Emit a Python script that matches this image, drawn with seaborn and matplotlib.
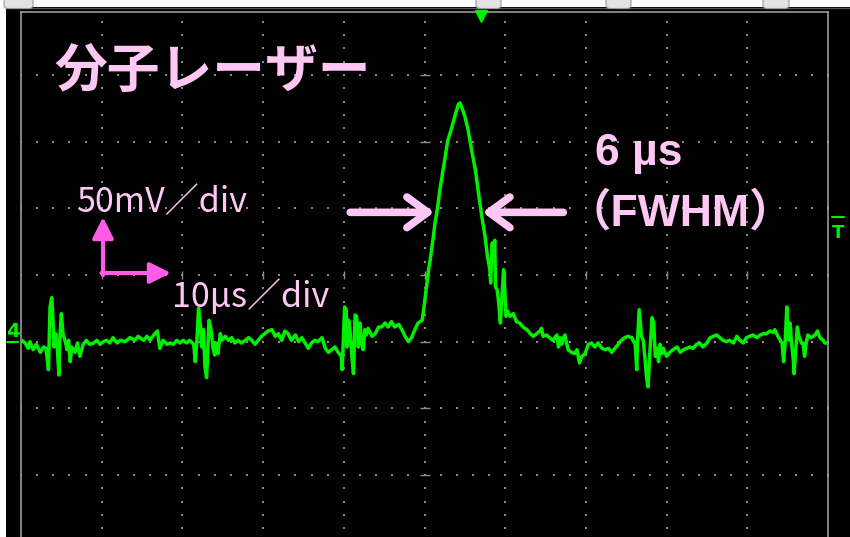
import numpy as np
import pandas as pd
import matplotlib
matplotlib.use("Agg")
import matplotlib.pyplot as plt
from matplotlib.patches import Rectangle, FancyBboxPatch
from matplotlib.lines import Line2D
from matplotlib.transforms import Affine2D, blended_transform_factory
import seaborn as sns

# Channel 4 capture: time in µs from the left screen edge, signal in mV above ground.
t_before = [0.1, 0.5, 0.9, 1.1, 1.5, 1.9, 2.4, 2.8, 3.1, 3.4, 3.6, 3.8, 3.9, 4.1, 4.3, 4.5,
            4.7, 4.8, 5.0, 5.2, 5.5, 5.7, 5.9, 6.1, 6.3, 6.7, 7.0, 7.3, 7.7, 8.1, 8.5, 9.0,
            9.4, 9.8, 10.2, 10.6, 11.0, 11.4, 11.9, 12.3, 12.9, 13.5, 14.1, 14.5, 15.2, 15.6,
            16.0, 16.2, 16.6, 16.9, 17.2, 17.6, 18.1, 18.5, 18.9, 19.3, 19.7, 20.1, 20.5, 20.9,
            21.4, 21.6, 21.8, 22.0, 22.2, 22.4, 22.6, 22.8, 23.0, 23.2, 23.3, 23.5, 23.8, 24.0,
            24.2, 24.4, 24.7, 24.9, 25.3, 25.7, 26.1, 26.5, 26.9, 27.3, 27.8, 28.2, 28.6, 29.0,
            29.4, 29.8, 30.2, 30.6, 31.1, 31.5, 31.9, 32.3, 32.7, 33.1, 33.5, 34.0, 34.4, 34.8,
            35.2, 35.6, 36.0, 36.4, 36.8, 37.3, 37.7, 38.1, 38.5, 38.9, 39.3, 39.7, 39.8, 40.1,
            40.3, 40.4, 40.6, 40.8, 41.0, 41.2, 41.4, 41.6, 41.8, 42.0, 42.2, 42.4, 42.6, 42.8,
            43.0, 43.5, 43.9, 44.3, 44.7, 45.1, 45.5, 45.9, 46.3, 46.8, 47.2, 47.6, 48.0, 48.4,
            48.8]
v_before = [1, -1, -5, 0, -6, -2, -8, -4, -5, -21, 26, 33, 24, -4, 6, -5,
            -25, 1, 21, 6, 0, -6, 1, -15, -4, -8, -1, -11, -2, 1, -2, -1,
            1, -2, 0, 1, -1, 3, -1, 1, 0, 3, 1, 4, 1, 4,
            1, 3, 6, 8, -5, 1, -2, -1, -2, 1, -1, 1, -1, 1,
            -2, -15, 1, 25, 14, -4, 9, -19, -27, 1, 16, 11, -5, -10,
            -1, -9, 6, 1, 4, 1, 3, -1, 1, -1, 1, 3, 1, -2,
            1, 4, 6, 8, 9, 4, 6, 1, 8, 6, 1, 5, 0, 3,
            -1, -5, -1, 1, 0, 3, -5, -8, -6, -4, -8, -11, -21, 26,
            24, -4, 16, 6, -11, -24, 20, 19, -4, 14, -1, -6, 9, 5,
            10, 4, 6, 11, 11, 14, 11, 15, 11, 13, 9, 4, 0, 3,
            9]

t_pulse = [49.2, 49.7, 49.9, 50.1, 50.3, 50.5, 50.7, 50.9, 51.1, 51.3, 51.5, 51.7, 51.9,
           52.1, 52.3, 52.5, 52.7, 52.9, 53.4, 53.8, 54.2, 54.4, 54.6, 55.0, 55.4, 55.8,
           56.3, 56.7, 57.1, 57.5, 57.8, 58.1, 58.2, 58.4, 58.5, 58.7, 58.8, 59.0, 59.2,
           59.4, 59.6, 59.8, 59.9, 60.1, 60.3, 60.6, 61.0, 61.4, 61.8, 62.2, 62.7, 63.1]
v_pulse = [14, 16, 24, 34, 44, 54, 61, 70, 79, 89, 96, 104, 114,
           121, 129, 136, 144, 151, 161, 170, 178, 179, 176, 169, 159, 145,
           129, 111, 94, 79, 64, 54, 44, 74, 61, 76, 41, 39, 29,
           14, 34, 54, 44, 19, 23, 19, 21, 15, 14, 11, 9, 6]

t_after = [63.5, 63.9, 64.3, 64.5, 64.7, 65.1, 65.5, 65.9, 66.4, 66.6, 66.8, 67.0, 67.2,
           67.4, 67.6, 67.8, 68.2, 68.6, 68.9, 69.2, 69.5, 69.9, 70.3, 70.7, 71.1, 71.5,
           72.0, 72.4, 72.8, 73.2, 73.6, 74.0, 74.4, 74.8, 75.2, 75.7, 75.9, 76.1, 76.3,
           76.4, 76.6, 76.9, 77.1, 77.3, 77.5, 77.7, 77.9, 78.2, 78.4, 78.6, 78.8, 79.0,
           79.2, 79.4, 79.6, 80.0, 80.4, 80.8, 81.3, 81.7, 82.1, 82.5, 82.9, 83.3, 83.7,
           84.1, 84.5, 85.0, 85.4, 85.8, 86.2, 86.6, 87.0, 87.4, 87.8, 88.3, 88.7, 89.1,
           89.5, 89.9, 90.3, 90.7, 91.2, 91.6, 92.0, 92.4, 92.8, 93.2, 93.4, 93.8, 94.3,
           94.5, 94.7, 94.9, 95.0, 95.2, 95.3, 95.5, 95.7, 95.8, 96.0, 96.2, 96.4, 96.7,
           96.9, 97.1, 97.3, 97.5, 97.9, 98.4, 98.7, 99.0, 99.4, 99.6, 99.9]
v_after = [4, 6, 8, 10, 4, 5, 3, 1, 5, -4, 3, -2, 3,
           5, -1, -6, -8, -9, -6, -16, -11, -9, -2, -1, -4, -1,
           -5, -6, -5, -8, -5, -2, 1, 3, 4, 3, 0, -1, -21,
           1, 24, 4, 1, -11, -26, -34, -11, 18, 14, -11, -5, -15,
           -2, -9, -5, -11, -8, -6, -4, -8, -6, -5, -4, -5, -2,
           -1, -4, -1, 3, 4, 5, 3, 1, 0, 1, -1, 4, 1,
           -1, 3, 4, 5, 3, 5, 6, 6, 8, 7, 9, 4, -1,
           -15, 1, 26, 6, 1, 14, -2, -14, -24, -6, 11, 4, -1,
           -1, -11, -1, 5, 3, 5, 8, 3, 1, -1, -1]

TIME_DIV_US = 10
VOLT_DIV_MV = 50
fwhm_us = 6
pulse_center_us = 54.2
trigger_pos_us = 57.0
fwhm_marker_mv = 97

title_text = "分子レーザー"
volt_scale_text = "50mV／div"
time_scale_text = "10μs／div"
width_text = "6 µs"
width_note = "（FWHM）"
channel_label = "4"
trigger_label = "T"

TRACE = "#00f000"
PINK = "#ffc8f4"
MAGENTA = "#ff5ae8"
GRID = "#8c8c8c"
FRAME = "#a8a8a8"

W, H = 850, 537
sns.set_theme(style="dark", rc={"axes.facecolor": "black", "figure.facecolor": "black"})
plt.rcParams["font.family"] = ["Noto Sans CJK JP", "DejaVu Sans"]

fig = plt.figure(figsize=(W / 100, H / 100), dpi=100)
ax = fig.add_axes([21 / W, 0, 807 / W, 525 / H])
YLIM = (-146.5, 247.25)
XLIM = (0, 10 * TIME_DIV_US)

# screen-pixel transform (origin top-left) for the scope overlay elements
pix = Affine2D().scale(1 / W, -1 / H).translate(0, 1) + fig.transFigure

# dotted graticule: dots every 1/5 division along each major line
major_t = np.arange(0, 101, TIME_DIV_US)
major_v = np.arange(-150, 251, VOLT_DIV_MV)
minor_t = np.arange(0, 100.001, TIME_DIV_US / 5)
minor_v = np.arange(-150, 250.001, VOLT_DIV_MV / 5)
gx, gy = [], []
for v in major_v:
    gx += list(minor_t)
    gy += [v] * len(minor_t)
for t in major_t[1:-1]:
    gx += [t] * len(minor_v)
    gy += list(minor_v)
ax.scatter(gx, gy, s=2.2, marker="s", color=GRID, linewidths=0, zorder=1)
center_t, center_v = 50, 50
ax.plot(major_t[1:-1], [center_v] * (len(major_t) - 2), ls="none", marker="|",
        ms=6, mew=1.0, color=GRID, zorder=1)
ax.plot([center_t] * len(major_v), major_v, ls="none", marker="_",
        ms=7, mew=1.0, color=GRID, zorder=1)

trace = pd.DataFrame({"t": t_before + t_pulse + t_after,
                      "mV": v_before + v_pulse + v_after})
sns.lineplot(data=trace, x="t", y="mV", sort=False, estimator=None, color=TRACE,
             lw=2.5, ax=ax, zorder=3, legend=False)

ax.set(xticks=[], yticks=[], xlabel="", ylabel="")
ax.grid(False)
for s in ["left", "right", "top"]:
    ax.spines[s].set_visible(True)
    ax.spines[s].set_color(FRAME)
    ax.spines[s].set_linewidth(1.1)
ax.spines["bottom"].set_visible(False)

# FWHM arrows pointing at the pulse flanks
half = fwhm_us / 2
fwhm_arrow = dict(arrowstyle="->,head_length=0.75,head_width=0.55", lw=5.5, color=PINK,
                  shrinkA=0, shrinkB=0, mutation_scale=20, capstyle="round",
                  joinstyle="round")
ax.annotate("", xy=(pulse_center_us - half, fwhm_marker_mv),
            xytext=(40.8, fwhm_marker_mv), arrowprops=fwhm_arrow, zorder=6)
ax.annotate("", xy=(pulse_center_us + half, fwhm_marker_mv),
            xytext=(67.2, fwhm_marker_mv), arrowprops=fwhm_arrow, zorder=6)

# scale-direction arrows
scale_arrow = dict(arrowstyle="-|>,head_length=0.9,head_width=0.45", lw=3, color=MAGENTA,
                   shrinkA=0, shrinkB=0, mutation_scale=14)
ax.annotate("", xy=(103, 217), xytext=(103, 275), xycoords=pix, textcoords=pix,
            arrowprops=scale_arrow)
ax.annotate("", xy=(171, 273), xytext=(101.5, 273), xycoords=pix, textcoords=pix,
            arrowprops=scale_arrow)

# labels
fig.text(54, 88, title_text, transform=pix, fontsize=38, fontweight="bold",
         color=PINK, ha="left", va="baseline")
fig.text(76, 212, volt_scale_text, transform=pix, fontsize=24.5, color=PINK,
         ha="left", va="baseline")
fig.text(172, 307, time_scale_text, transform=pix, fontsize=24.5, color=PINK,
         ha="left", va="baseline")
fig.text(595, 165, width_text, transform=pix, family=["Liberation Sans", "DejaVu Sans"],
         fontsize=32, fontweight="bold", color=PINK, ha="left", va="baseline")
fig.text(567, 226, width_note, transform=pix, family=["Liberation Sans", "Noto Sans CJK JP"],
         fontsize=32, fontweight="bold", color=PINK, ha="left", va="baseline")

# channel ground marker, trigger level and trigger position
fig.text(13, 337, channel_label, transform=pix, family="DejaVu Sans", fontsize=14,
         fontweight="bold", color=TRACE, ha="center", va="baseline")
gnd = blended_transform_factory(pix, ax.transData)
fig.add_artist(Line2D([7, 18], [0, 0], transform=gnd, color=TRACE, lw=1.5))
fig.text(838, 238, trigger_label, transform=pix, family="DejaVu Sans", fontsize=13,
         fontweight="bold", color=TRACE, ha="center", va="baseline")
fig.add_artist(Line2D([832, 844], [216.7, 216.7], transform=pix, color=TRACE, lw=1.5))
ax.plot([trigger_pos_us], [16], marker="v", ms=8, color=TRACE, ls="none",
        transform=blended_transform_factory(ax.transData, pix), clip_on=False, zorder=5)

# bezel around the screen
fig.add_artist(Rectangle((0, 0), W, 6.5, transform=pix, fc="white", ec="none", zorder=8))
fig.add_artist(Rectangle((0, 0), 6, H, transform=pix, fc="white", ec="none", zorder=8))
fig.add_artist(Line2D([6, W], [7.5, 7.5], transform=pix, color="#555555", lw=1.0, zorder=8))
for x0, w in [(4, 29), (476, 25), (606, 25), (763, 26)]:
    fig.add_artist(FancyBboxPatch((x0, -3), w, 11.5, transform=pix,
                                  boxstyle="round,pad=0,rounding_size=4",
                                  fc="#e2e2e2", ec="#9a9a9a", lw=0.8, zorder=9))

ax.set_xlim(*XLIM)
ax.set_ylim(*YLIM)
fig.savefig("out.png", dpi=100, facecolor="black")
